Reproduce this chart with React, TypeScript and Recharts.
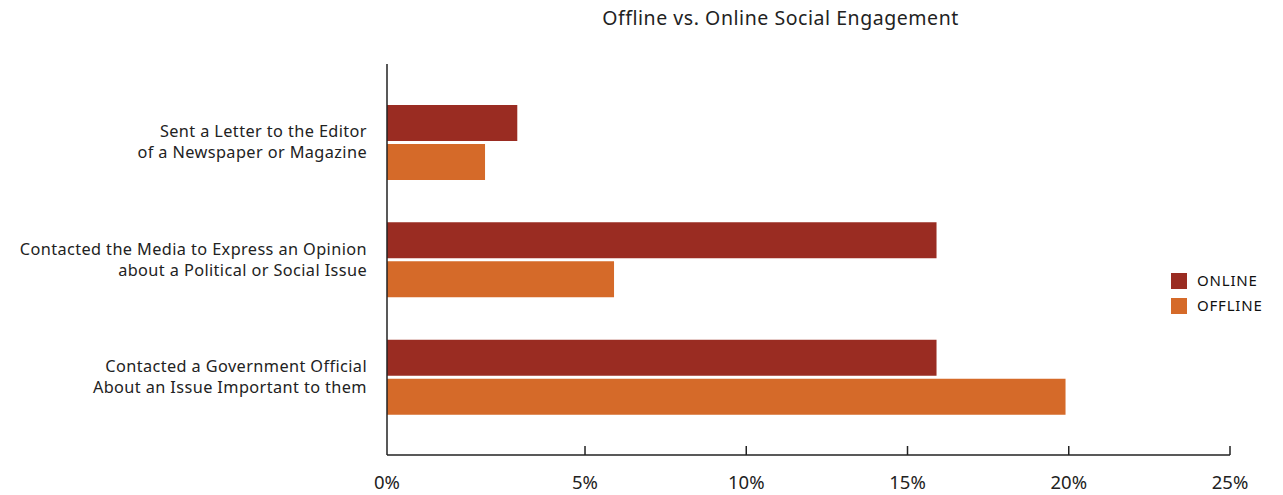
import React from "react";
import { BarChart, Bar, XAxis, YAxis } from "recharts";

const categories = [
  ["Sent a Letter to the Editor", "of a Newspaper or Magazine"],
  ["Contacted the Media to Express an Opinion", "about a Political or Social Issue"],
  ["Contacted a Government Official", "About an Issue Important to them"],
];
const onlineValues = [2.9, 15.9, 15.9];
const offlineValues = [1.9, 5.9, 19.9];
const tickValues = [5, 10, 15, 20, 25];

// the original axis starts a little left of its zero, bars start at the axis
const AXIS_MIN = -1.14;

const ONLINE_COLOR = "#9a2c22";
const OFFLINE_COLOR = "#d56a29";
const FONT = "'Noto Sans', Lato, sans-serif";

const data = categories.map((lines, i) => ({
  label: lines.join("|"),
  online: onlineValues[i],
  offline: offlineValues[i],
}));

const CategoryTick = ({ x, y, payload }: any) => {
  const lines = String(payload.value).split("|");
  return (
    <text
      x={x}
      y={y}
      textAnchor="end"
      fontFamily={FONT}
      fontSize={16.3}
      letterSpacing={0.4}
      fill="#222"
    >
      <tspan x={x} y={y - 5.5}>
        {lines[0]}
      </tspan>
      <tspan x={x} y={y + 15.5}>
        {lines[1]}
      </tspan>
    </text>
  );
};

const PercentTick = ({ x, y, payload }: any) => {
  const v = payload.value;
  return (
    <g>
      {v > 0 && (
        <line x1={x} y1={y - 9} x2={x} y2={y} stroke="#222" strokeWidth={1.5} />
      )}
      <text
        x={x}
        y={y + 34}
        textAnchor="middle"
        fontFamily={FONT}
        fontSize={18.5}
        fill="#222"
      >
        {v <= 0 ? "0%" : `${v}%`}
      </text>
    </g>
  );
};

export default function App() {
  return (
    <div
      style={{
        position: "absolute",
        left: 0,
        top: 0,
        width: 1283,
        height: 495,
        background: "#fff",
        fontFamily: FONT,
      }}
    >
      <div
        style={{
          position: "absolute",
          left: 0,
          width: 1561,
          top: 4,
          textAlign: "center",
          fontSize: 19.5,
          letterSpacing: 0.55,
          color: "#222",
        }}
      >
        Offline vs. Online Social Engagement
      </div>
      <BarChart
        width={1283}
        height={495}
        data={data}
        layout="vertical"
        margin={{ top: 64, right: 53, left: 0, bottom: 0 }}
        barSize={36}
        barGap={3}
      >
        <XAxis
          type="number"
          domain={[AXIS_MIN, 25]}
          ticks={[AXIS_MIN, ...tickValues]}
          allowDataOverflow
          height={40}
          tickSize={0}
          tickMargin={0}
          tickLine={false}
          tick={<PercentTick />}
          axisLine={{ stroke: "#222", strokeWidth: 1.5 }}
        />
        <YAxis
          type="category"
          dataKey="label"
          width={387}
          tickSize={0}
          tickMargin={20}
          tickLine={false}
          tick={<CategoryTick />}
          padding={{ top: 20, bottom: 19 }}
          axisLine={{ stroke: "#222", strokeWidth: 1.5 }}
        />
        <Bar
          dataKey={(d: any) => [AXIS_MIN, d.online]}
          name="ONLINE"
          fill={ONLINE_COLOR}
          isAnimationActive={false}
        />
        <Bar
          dataKey={(d: any) => [AXIS_MIN, d.offline]}
          name="OFFLINE"
          fill={OFFLINE_COLOR}
          isAnimationActive={false}
        />
      </BarChart>
      <div
        style={{
          position: "absolute",
          left: 1171,
          top: 268,
          fontSize: 15,
          letterSpacing: 0.8,
          color: "#111",
          lineHeight: "25px",
        }}
      >
        {[
          ["ONLINE", ONLINE_COLOR],
          ["OFFLINE", OFFLINE_COLOR],
        ].map(([name, color]) => (
          <div key={name} style={{ display: "flex", alignItems: "center" }}>
            <span
              style={{
                width: 16,
                height: 16,
                background: color,
                marginRight: 10,
                display: "inline-block",
              }}
            />
            {name}
          </div>
        ))}
      </div>
    </div>
  );
}
